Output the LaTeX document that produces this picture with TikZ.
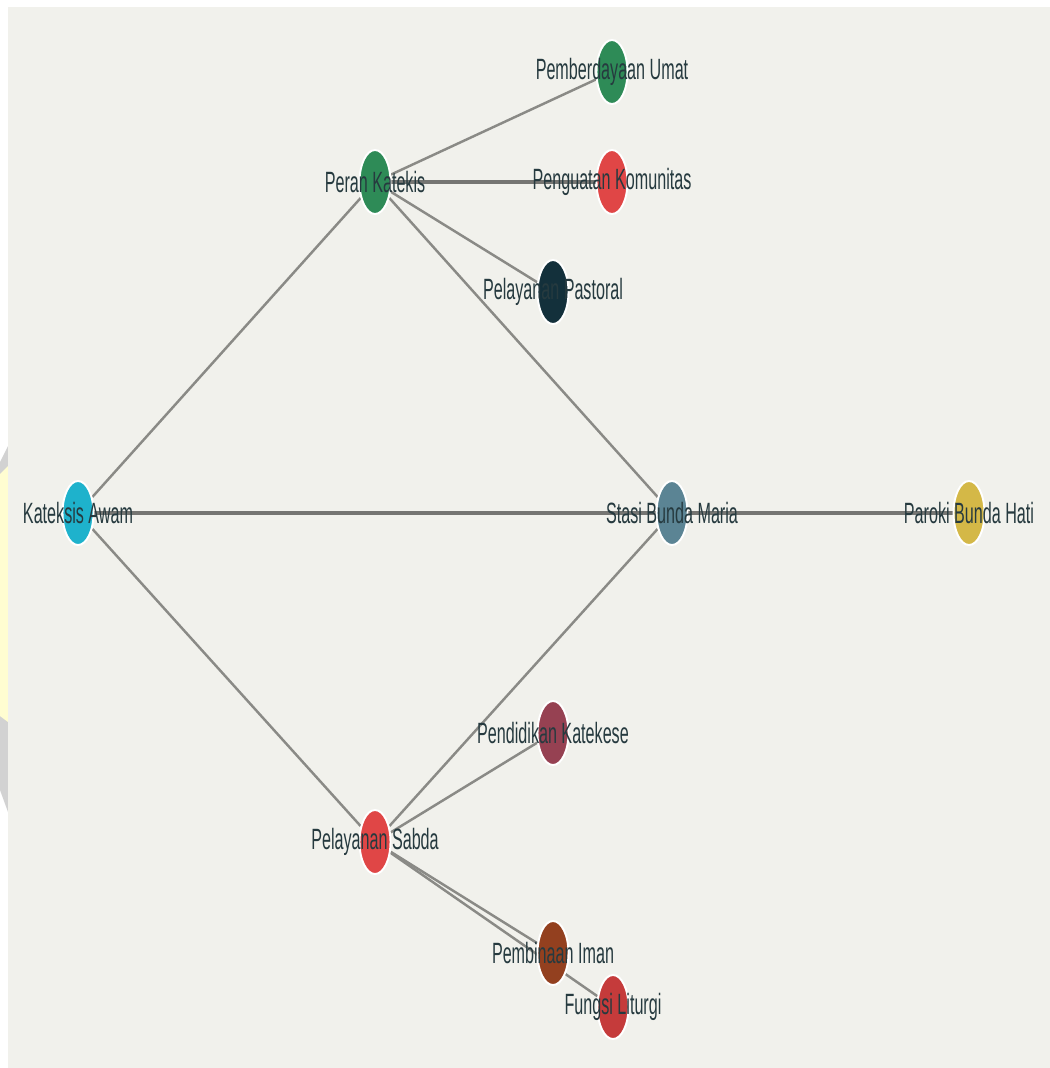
\documentclass[tikz,border=0pt]{standalone}
\usepackage{fontspec}
\newfontfamily\lblfont[FakeStretch=0.55]{Liberation Sans}
\usetikzlibrary{shapes.geometric,backgrounds}
\pgfdeclarelayer{page}
\pgfsetlayers{page,background,main}
\definecolor{panel}{HTML}{F1F1EC}
\definecolor{linkgray}{HTML}{8A8A86}
\definecolor{lblcol}{HTML}{263A3F}
\definecolor{cyanA}{HTML}{1EB2CC}
\definecolor{greenA}{HTML}{2E8B57}
\definecolor{redA}{HTML}{E04646}
\definecolor{darkA}{HTML}{13303B}
\definecolor{slateA}{HTML}{5B8494}
\definecolor{yellowA}{HTML}{D4B847}
\definecolor{maroonA}{HTML}{964152}
\definecolor{brownA}{HTML}{93401F}
\definecolor{fireA}{HTML}{C53B3B}

\begin{document}
\begin{tikzpicture}[x=0.02cm,y=-0.02cm,
  main node/.style={ellipse,draw=white,line width=1.1pt,inner sep=0pt,
    minimum width=0.62cm,minimum height=1.28cm},
  lbl/.style={font=\lblfont\fontsize{16.7}{20}\selectfont,text=lblcol,inner sep=0pt},
  tag/.style={label={[lbl]center:#1}},
  link/.style={draw=linkgray,line width=1.4pt},
  flat link/.style={draw=linkgray!85!black,line width=2.2pt}]

  % page and panel
  \useasboundingbox (0,0) rectangle (1050,1068);
  \begin{pgfonlayer}{page}
    \fill[white] (0,0) rectangle (1050,1068);
    \fill[gray!35] (0,462) -- (8,446) -- (8,812) -- (0,790) -- cycle;
    \fill[yellow!18] (0,474) -- (8,466) -- (8,722) -- (0,716) -- cycle;
    \fill[panel] (8,7) rectangle (1050,1068);
  \end{pgfonlayer}

  \node[main node,fill=cyanA,tag={Kateksis Awam}] (0) at (78,513) {};
  \node[main node,fill=greenA,tag={Peran Katekis}] (1) at (375,182) {};
  \node[main node,fill=greenA,tag={Pemberdayaan Umat}] (2) at (612,72) {};
  \node[main node,fill=redA,tag={Penguatan Komunitas}] (3) at (612,182) {};
  \node[main node,fill=darkA,tag={Pelayanan Pastoral}] (4) at (553,292) {};
  \node[main node,fill=slateA,tag={Stasi Bunda Maria}] (5) at (672,513) {};
  \node[main node,fill=yellowA,tag={Paroki Bunda Hati}] (6) at (969,513) {};
  \node[main node,fill=maroonA,tag={Pendidikan Katekese}] (7) at (553,733) {};
  \node[main node,fill=redA,tag={Pelayanan Sabda}] (8) at (375,842) {};
  \node[main node,fill=brownA,tag={Pembinaan Iman}] (9) at (553,953) {};
  \node[main node,fill=fireA,tag={Fungsi Liturgi}] (10) at (613,1007) {};

  \begin{pgfonlayer}{background}
    \path[link]
     (0) edge (1)
         edge (8)
     (1) edge (2)
         edge (4)
         edge (5)
     (5) edge (8)
     (8) edge (7)
         edge (9)
         edge (10)
;
    \path[flat link]
     (0) edge (5)
     (1) edge (3)
     (5) edge (6)
;
  \end{pgfonlayer}
\end{tikzpicture}
\end{document}
